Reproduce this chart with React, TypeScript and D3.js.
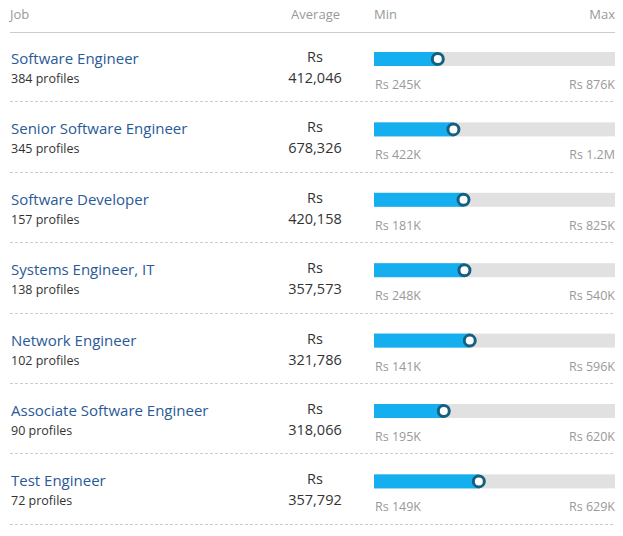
import React from "react";
import * as d3 from "d3";

const jobs = [
  "Software Engineer",
  "Senior Software Engineer",
  "Software Developer",
  "Systems Engineer, IT",
  "Network Engineer",
  "Associate Software Engineer",
  "Test Engineer",
];
const profiles = [384, 345, 157, 138, 102, 90, 72];
const averages = [412046, 678326, 420158, 357573, 321786, 318066, 357792];
const mins = [245000, 422000, 181000, 248000, 141000, 195000, 149000];
const maxs = [876000, 1200000, 825000, 540000, 596000, 620000, 629000];
const minLabels = ["Rs 245K", "Rs 422K", "Rs 181K", "Rs 248K", "Rs 141K", "Rs 195K", "Rs 149K"];
const maxLabels = ["Rs 876K", "Rs 1.2M", "Rs 825K", "Rs 540K", "Rs 596K", "Rs 620K", "Rs 629K"];
const headers = ["Job", "Average", "Min", "Max"];

const W = 623;
const H = 536;
const FONT = "'Open Sans', sans-serif";

export default function App() {
  const rowY = d3
    .scaleLinear()
    .domain([0, jobs.length])
    .range([32, 32 + 70.4 * jobs.length]);
  const barX0 = 374;
  const barX1 = 615;
  const fmt = d3.format(",");

  return (
    <svg
      width={W}
      height={H}
      style={{ position: "absolute", left: 0, top: 0, background: "#fff" }}
      fontFamily={FONT}
    >
      <text x={10} y={19} fontSize={13} fill="#999">{headers[0]}</text>
      <text x={340} y={19} fontSize={13} fill="#999" textAnchor="end">{headers[1]}</text>
      <text x={374} y={19} fontSize={13} fill="#999">{headers[2]}</text>
      <text x={615} y={19} fontSize={13} fill="#999" textAnchor="end">{headers[3]}</text>
      <line x1={10} x2={615} y1={32.5} y2={32.5} stroke="#ccc" strokeWidth={1} />
      {jobs.map((job, i) => {
        const top = rowY(i);
        const x = d3.scaleLinear().domain([mins[i], maxs[i]]).range([barX0, barX1]);
        const kx = x(averages[i]);
        const barTop = top + 20;
        const barH = 14;
        const cy = barTop + barH / 2;
        return (
          <g key={job}>
            <text x={11} y={top + 32} fontSize={15} fill="#2a5a98">{job}</text>
            <text x={11} y={top + 51} fontSize={12.5} fill="#333">{profiles[i]} profiles</text>
            <text x={315} y={top + 30} fontSize={14.5} fill="#333" textAnchor="middle">Rs</text>
            <text x={315} y={top + 51} fontSize={14.5} fill="#333" textAnchor="middle">{fmt(averages[i])}</text>
            <rect x={barX0} y={barTop} width={barX1 - barX0} height={barH} fill="#e1e1e1" />
            <rect x={barX0} y={barTop} width={kx - barX0} height={barH} fill="#15aff0" />
            <circle cx={kx} cy={cy} r={5.5} fill="#fff" stroke="#16607f" strokeWidth={3} />
            <text x={375} y={top + 57} fontSize={12.5} fill="#999">{minLabels[i]}</text>
            <text x={615} y={top + 57} fontSize={12.5} fill="#999" textAnchor="end">{maxLabels[i]}</text>
            <line
              x1={10}
              x2={615}
              y1={Math.round(rowY(i + 1)) - 0.5}
              y2={Math.round(rowY(i + 1)) - 0.5}
              stroke="#ccc"
              strokeDasharray="3,2"
              strokeWidth={1}
            />
          </g>
        );
      })}
    </svg>
  );
}
